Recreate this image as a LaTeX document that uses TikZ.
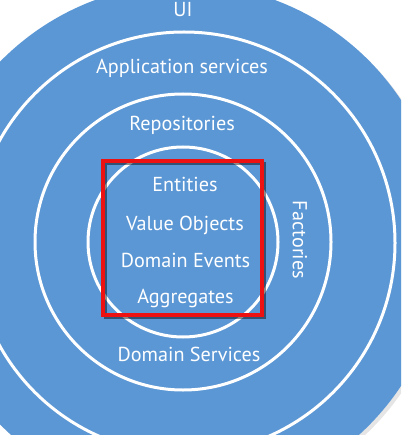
\documentclass[tikz,border=0pt]{standalone}
\usepackage{fontspec}
\setmainfont{PT Sans}
\definecolor{diskblue}{HTML}{5B97D5}
\definecolor{boxred}{HTML}{EE1111}
\begin{document}
\begin{tikzpicture}[x=1pt,y=-1pt,
  lbl/.style={text=white,font=\fontsize{20.2}{22}\selectfont,inner sep=0pt,anchor=base},
  ring/.style={draw=white,line width=3pt}]
\useasboundingbox (0,0) rectangle (401,435);
\clip (0,0) rectangle (401,435);
% outer disc with soft shadow
\fill[black,opacity=0.10] (188,246) circle[radius=259pt];
\fill[diskblue] (185,243) circle[radius=259pt];
% rings
\draw[ring] (184,243) circle[radius=211pt];
\draw[ring] (183,242) circle[radius=148pt];
\draw[ring] (183,242) circle[radius=95pt];
% labels
\node[lbl] (ui) at (183,16.5) {UI};
\node[lbl] (app) at (182,74) {Application services};
\node[lbl] (repo) at (182,131) {Repositories};
\node[lbl] (ent) at (185,192) {Entities};
\node[lbl] (vo) at (185,230) {Value Objects};
\node[lbl] (de) at (185.5,267) {Domain Events};
\node[lbl] (agg) at (185.5,303) {Aggregates};
\node[lbl] (ds) at (189,361) {Domain Services};
\node[text=white,font=\fontsize{20.2}{22}\selectfont,inner sep=0pt,rotate=-90] (fac) at (300,240) {Factories};
% highlighted box
\draw[black,opacity=0.45,line width=3.3pt] (105.5,163.5) rectangle (264.5,317.5);
\draw[boxred,line width=3.3pt] (103,161) rectangle (262,315);
\end{tikzpicture}
\end{document}
